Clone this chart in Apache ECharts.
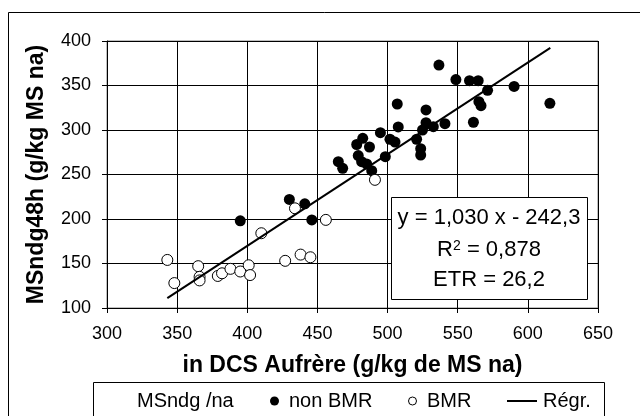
<!DOCTYPE html>
<html><head><meta charset="utf-8">
<script src="https://cdn.jsdelivr.net/npm/echarts@6/dist/echarts.min.js"></script>
<style>html,body{margin:0;padding:0;background:#fff}#c{width:640px;height:416px}</style>
</head><body><div id="c"></div>
<script>
// Data (x = in DCS Aufrère, y = MSndg48h)
const nonBMR = [
  [536.6,373.0],[548.7,356.7],[558.4,355.4],[564.6,355.4],[571.3,344.6],[590.2,348.9],
  [615.7,330.0],[565.1,331.8],[566.6,327.3],[561.2,308.7],[540.9,307.1],[532.6,303.7],
  [527.4,322.5],[527.4,308.2],[524.9,300.0],[520.7,289.6],[523.6,279.0],[523.6,271.9],
  [506.9,329.2],[507.6,303.4],[501.7,289.6],[505.3,286.5],[498.4,270.0],[494.9,297.0],
  [487.1,280.9],[482.3,290.7],[478.0,283.7],[479.1,271.3],[481.5,264.4],[485.1,261.8],
  [488.7,254.3],[464.9,264.4],[468.0,257.0],
  [395,198],[430,222],[441,217],[446,199]
];
const BMR = [
  [343,154],[348,128],[365,147],[366,135],[366,131],[379,136],[382,139],[388,144],
  [395,141],[401,148],[402,137],[410,184],[427,153],[438,160],[445,157],[434,212],
  [456,199],[491,244]
];
const regr = [[343,111.0],[616,392.2]];
const xTicks = {min:300,max:650,interval:50};
const yTicks = {min:100,max:400,interval:50};
const xTitle = 'in DCS Aufrère (g/kg de MS na)';
const yTitle = 'MSndg48h (g/kg MS na)';
const eqLines = ['y = 1,030 x - 242,3', '0,878', 'ETR = 26,2'];
const legendTitle = 'MSndg /na';
const legendNames = ['non BMR','BMR','Régr.'];

const FF = "'Liberation Sans', Arial, sans-serif";
const chart = echarts.init(document.getElementById('c'), null, {renderer:'canvas'});
chart.setOption({
  animation:false,
  backgroundColor:'#fff',
  grid:{left:107,right:42,top:41,bottom:108,show:true,borderColor:'#808080',borderWidth:1},
  xAxis:{type:'value',min:xTicks.min,max:xTicks.max,interval:xTicks.interval,
    axisLine:{show:true,onZero:false,lineStyle:{color:'#000',width:1}},
    axisTick:{show:true,inside:false,length:5,lineStyle:{color:'#000'}},
    axisLabel:{color:'#000',fontSize:18,fontFamily:FF,margin:17},
    splitLine:{show:true,lineStyle:{color:'#000',width:1}},
    name:xTitle,nameLocation:'middle',nameGap:46,
    nameTextStyle:{color:'#000',fontSize:23,fontWeight:'bold',fontFamily:FF}},
  yAxis:{type:'value',min:yTicks.min,max:yTicks.max,interval:yTicks.interval,
    axisLine:{show:true,onZero:false,lineStyle:{color:'#000',width:1}},
    axisTick:{show:true,inside:false,length:5,lineStyle:{color:'#000'}},
    axisLabel:{color:'#000',fontSize:18,fontFamily:FF,margin:16},
    splitLine:{show:true,lineStyle:{color:'#000',width:1}},
    name:yTitle,nameLocation:'middle',nameGap:59,
    nameTextStyle:{color:'#000',fontSize:23,fontWeight:'bold',fontFamily:FF}},
  series:[
    {name:legendNames[0],type:'scatter',data:nonBMR,symbol:'circle',symbolSize:11,
     itemStyle:{color:'#000',opacity:1},z:2},
    {name:legendNames[1],type:'scatter',data:BMR,symbol:'circle',symbolSize:11,
     itemStyle:{color:'#fff',borderColor:'#000',borderWidth:1,opacity:1},z:3},
    {name:legendNames[2],type:'line',data:regr,symbol:'none',
     lineStyle:{color:'#000',width:2},z:4}
  ],
  graphic:[
    {type:'rect',shape:{x:8.5,y:12.5,width:700,height:500},style:{fill:'none',stroke:'#000',lineWidth:1},z:-1,silent:true},
    {type:'rect',shape:{x:391.5,y:197.5,width:196,height:102},style:{fill:'#fff',stroke:'#000',lineWidth:1},z:10},
    {type:'text',x:489,y:218,z:11,style:{text:eqLines[0],fill:'#000',font:'22px '+FF,textAlign:'center',textVerticalAlign:'middle'}},
    {type:'text',x:489,y:250,z:11,style:{text:'{a|R}{s|2}{a| = '+eqLines[1]+'}',textAlign:'center',textVerticalAlign:'middle',
      rich:{a:{fontSize:22,fontFamily:FF,fill:'#000',color:'#000'},s:{fontSize:14,fontFamily:FF,color:'#000',verticalAlign:'top',padding:[0,0,8,0]}}}},
    {type:'text',x:489,y:280,z:11,style:{text:eqLines[2],fill:'#000',font:'22px '+FF,textAlign:'center',textVerticalAlign:'middle'}},
    {type:'rect',shape:{x:93.5,y:382.5,width:511,height:60},style:{fill:'#fff',stroke:'#000',lineWidth:1},z:10},
    {type:'text',x:137,y:401,z:11,style:{text:legendTitle,fill:'#000',font:'20px '+FF,textVerticalAlign:'middle'}},
    {type:'circle',shape:{cx:274.5,cy:401,r:4.5},style:{fill:'#000'},z:11},
    {type:'text',x:289,y:401,z:11,style:{text:legendNames[0],fill:'#000',font:'20px '+FF,textVerticalAlign:'middle'}},
    {type:'circle',shape:{cx:412.5,cy:401,r:4},style:{fill:'#fff',stroke:'#000',lineWidth:1},z:11},
    {type:'text',x:427,y:401,z:11,style:{text:legendNames[1],fill:'#000',font:'20px '+FF,textVerticalAlign:'middle'}},
    {type:'line',shape:{x1:507,y1:401,x2:537,y2:401},style:{stroke:'#000',lineWidth:2},z:11},
    {type:'text',x:543,y:401,z:11,style:{text:legendNames[2],fill:'#000',font:'20px '+FF,textVerticalAlign:'middle'}}
  ]
});
</script></body></html>
